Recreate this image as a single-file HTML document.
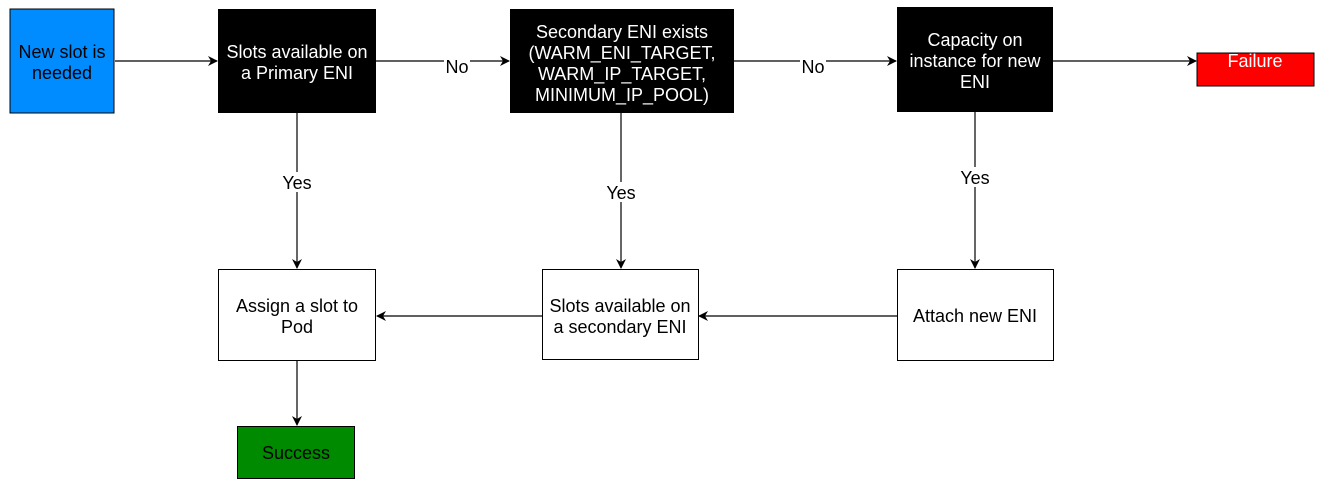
<!DOCTYPE html>
<html><head><style>
body{margin:0;background:#fff;}
svg text{font-family:"Liberation Sans",Arial,sans-serif;font-size:18px;text-anchor:middle;}
</style></head><body>
<svg width="1332" height="489" xmlns="http://www.w3.org/2000/svg">
<defs><marker id="a" markerWidth="10" markerHeight="10" refX="9" refY="5" orient="auto" markerUnits="userSpaceOnUse"><path d="M0,0 L10,5 L0,10 L3,5 Z" fill="#000"/></marker></defs>
<g stroke="#000" stroke-width="1.2" fill="none" marker-end="url(#a)">
<line x1="115" y1="61" x2="217" y2="61"/>
<line x1="376" y1="61" x2="509" y2="61"/>
<line x1="734" y1="61" x2="896" y2="61"/>
<line x1="1053" y1="61" x2="1196" y2="61"/>
<line x1="297" y1="113" x2="297" y2="268"/>
<line x1="621" y1="113" x2="621" y2="268"/>
<line x1="975" y1="112" x2="975" y2="268"/>
<line x1="897" y1="316" x2="699" y2="316"/>
<line x1="542" y1="316" x2="377" y2="316"/>
<line x1="297" y1="361" x2="297" y2="425"/>
</g>
<g fill="#fff">
<rect x="444" y="57" width="26" height="18"/><rect x="800" y="57" width="26" height="18"/>
<rect x="282" y="172" width="30" height="20"/><rect x="606" y="182" width="30" height="20"/><rect x="960" y="167" width="30" height="20"/>
</g>
<text x="457" y="73">No</text><text x="813" y="73">No</text>
<text x="297" y="189">Yes</text><text x="621" y="199">Yes</text><text x="975" y="184">Yes</text>
<rect x="10" y="9" width="104" height="104" fill="#008cff" stroke="#000"/>
<text x="62" y="58">New slot is</text><text x="62" y="79">needed</text>
<rect x="218" y="9" width="158" height="104" fill="#000"/>
<text fill="#fff" x="297" y="58">Slots available on</text><text fill="#fff" x="297" y="79">a Primary ENI</text>
<rect x="510" y="9" width="224" height="104" fill="#000"/>
<g fill="#fff"><text x="622" y="38">Secondary ENI exists</text><text x="622" y="59">(WARM_ENI_TARGET,</text><text x="622" y="80">WARM_IP_TARGET,</text><text x="622" y="101">MINIMUM_IP_POOL)</text></g>
<rect x="897" y="7" width="156" height="105" fill="#000"/>
<g fill="#fff"><text x="975" y="46">Capacity on</text><text x="975" y="67">instance for new</text><text x="975" y="88">ENI</text></g>
<rect x="1197" y="53" width="117" height="33" fill="#f00" stroke="#000"/>
<text fill="#fff" x="1255" y="67">Failure</text>
<rect x="218.5" y="269.5" width="157" height="91" fill="#fff" stroke="#000"/>
<text x="297" y="312">Assign a slot to</text><text x="297" y="333">Pod</text>
<rect x="542.5" y="269.5" width="156" height="90" fill="#fff" stroke="#000"/>
<text x="620" y="312">Slots available on</text><text x="620" y="333">a secondary ENI</text>
<rect x="897.5" y="269.5" width="156" height="91" fill="#fff" stroke="#000"/>
<text x="975" y="322">Attach new ENI</text>
<rect x="237.5" y="426.5" width="117" height="52" fill="#008a00" stroke="#000"/>
<text x="296" y="459">Success</text>
</svg>
</body></html>
